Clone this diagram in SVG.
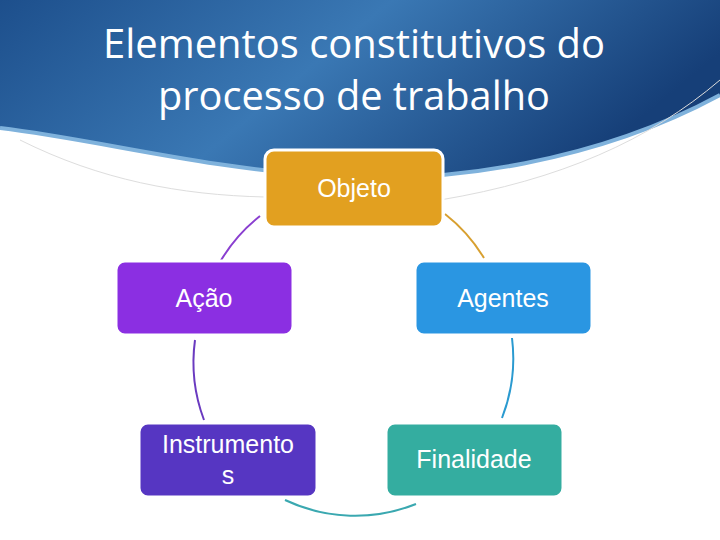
<svg xmlns="http://www.w3.org/2000/svg" width="720" height="540" viewBox="0 0 720 540">
<defs>
<linearGradient id="hd" x1="0" y1="0" x2="1" y2="0.3">
<stop offset="0" stop-color="#1d4f8c"/><stop offset="0.5" stop-color="#3a78b4"/><stop offset="1" stop-color="#163f78"/>
</linearGradient>
<style>
.box{stroke:#fff;stroke-width:3}
.lbl{font-family:"Liberation Sans",Arial,sans-serif;font-size:25px;fill:#fff;text-anchor:middle}
.arc{fill:none;stroke-width:2}
</style>
</defs>
<rect width="720" height="540" fill="#fff"/>
<path d="M0 0 H720 V95 C600 160 450 185 330 176 C200 168 100 140 0 128 Z" fill="url(#hd)"/>
<path d="M0 128 C100 140 200 168 330 176 C450 185 600 160 720 95" fill="none" stroke="#7fb2dc" stroke-width="4"/>
<path d="M20 140 C100 180 180 195 265 197" fill="none" stroke="#ddd" stroke-width="1"/>
<path d="M440 200 C560 180 650 140 720 80" fill="none" stroke="#ddd" stroke-width="1"/>
<text x="354" y="58" font-family="'Open Sans','Liberation Sans',sans-serif" font-size="40" fill="#fff" text-anchor="middle" textLength="502" lengthAdjust="spacingAndGlyphs">Elementos constitutivos do</text>
<text x="354" y="110" font-family="'Open Sans','Liberation Sans',sans-serif" font-size="40" fill="#fff" text-anchor="middle" textLength="392" lengthAdjust="spacingAndGlyphs">processo de trabalho</text>
<g id="connectors">
<path class="arc" stroke="#8a3fd0" d="M260 216 A164 164 0 0 0 220 262"/>
<path class="arc" stroke="#6a3ac0" d="M195 340 A164 164 0 0 0 204 420"/>
<path class="arc" stroke="#3aa8b0" d="M285 500 A164 164 0 0 0 416 504"/>
<path class="arc" stroke="#2a9ad0" d="M502 418 A164 164 0 0 0 512 338"/>
<path class="arc" stroke="#d8a030" d="M445 214 A164 164 0 0 1 484 258"/>
</g>
<g id="objeto"><rect class="box" x="265" y="150" width="178" height="77" rx="9" fill="#e2a020"/><text class="lbl" x="354" y="197">Objeto</text></g>
<g id="acao"><rect class="box" x="116" y="261" width="177" height="74" rx="9" fill="#8b2fe2"/><text class="lbl" x="204" y="307">Ação</text></g>
<g id="agentes"><rect class="box" x="415" y="261" width="177" height="74" rx="9" fill="#2a96e2"/><text class="lbl" x="503" y="307">Agentes</text></g>
<g id="instrumentos"><rect class="box" x="139" y="423" width="178" height="74" rx="9" fill="#5636c2"/><text class="lbl" x="228" y="453">Instrumento</text><text class="lbl" x="228" y="484">s</text></g>
<g id="finalidade"><rect class="box" x="386" y="423" width="177" height="74" rx="9" fill="#34ada0"/><text class="lbl" x="474" y="468">Finalidade</text></g>
</svg>
